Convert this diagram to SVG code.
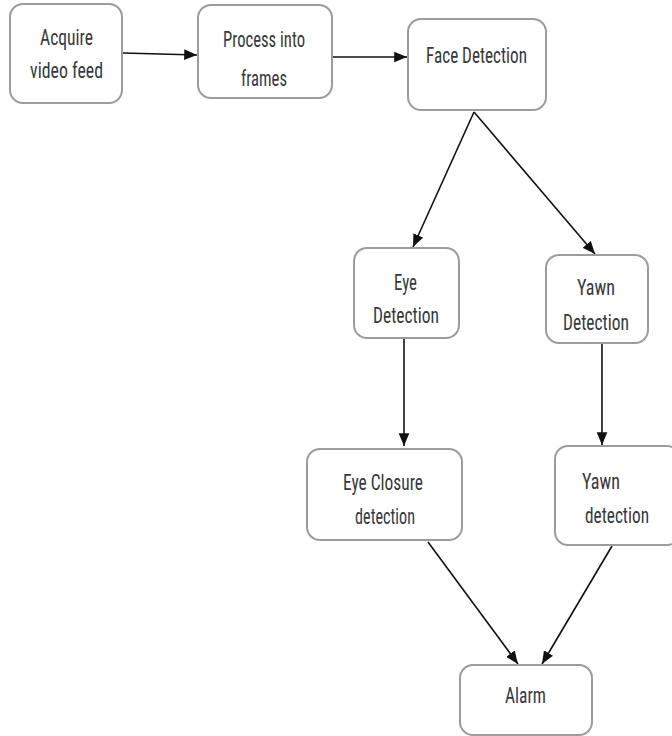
<svg xmlns="http://www.w3.org/2000/svg" width="672" height="736" viewBox="0 0 672 736">
  <style>
    .box { fill: #ffffff; stroke: #9c9c9c; stroke-width: 2; }
    .lbl { font-family: "Roboto Condensed", "Liberation Sans Narrow", Roboto, "Liberation Sans", sans-serif; font-size: 22px; fill: #383838; text-anchor: middle; }
    .edge { stroke: #111111; stroke-width: 1.6; fill: none; marker-end: url(#arrow); }
  </style>
  <defs>
    <marker id="arrow" viewBox="0 0 12 10" refX="12" refY="5" markerWidth="8" markerHeight="7" markerUnits="strokeWidth" orient="auto">
      <path d="M0,0 L12,5 L0,10 z" fill="#111111"/>
    </marker>
  </defs>
  <rect width="672" height="736" fill="#ffffff"/>

  <g id="connectors">
    <line class="edge" x1="123" y1="53" x2="197" y2="55"/>
    <line class="edge" x1="333" y1="57" x2="407" y2="57"/>
    <line class="edge" x1="474" y1="112" x2="413" y2="247"/>
    <line class="edge" x1="474" y1="112" x2="595" y2="254"/>
    <line class="edge" x1="404" y1="339" x2="404" y2="446"/>
    <line class="edge" x1="602" y1="344" x2="602" y2="445"/>
    <line class="edge" x1="428" y1="542" x2="518" y2="664"/>
    <line class="edge" x1="612" y1="546" x2="542" y2="664"/>
  </g>

  <g id="acquire">
    <rect class="box" x="10" y="4" width="112" height="99" rx="13"/>
    <text class="lbl" x="66.5" y="45" textLength="53" lengthAdjust="spacingAndGlyphs">Acquire</text>
    <text class="lbl" x="66.5" y="78" textLength="73" lengthAdjust="spacingAndGlyphs">video feed</text>
  </g>
  <g id="process">
    <rect class="box" x="198" y="5" width="134" height="93" rx="13"/>
    <text class="lbl" x="264" y="47" textLength="82" lengthAdjust="spacingAndGlyphs">Process into</text>
    <text class="lbl" x="264" y="86" textLength="46" lengthAdjust="spacingAndGlyphs">frames</text>
  </g>
  <g id="face">
    <rect class="box" x="408" y="19" width="138" height="91" rx="13"/>
    <text class="lbl" x="476.5" y="63" textLength="101" lengthAdjust="spacingAndGlyphs">Face Detection</text>
  </g>
  <g id="eye">
    <rect class="box" x="354" y="248" width="105" height="90" rx="13"/>
    <text class="lbl" x="405.5" y="290" textLength="23" lengthAdjust="spacingAndGlyphs">Eye</text>
    <text class="lbl" x="406" y="323" textLength="66" lengthAdjust="spacingAndGlyphs">Detection</text>
  </g>
  <g id="yawn">
    <rect class="box" x="546" y="255" width="102" height="88" rx="13"/>
    <text class="lbl" x="596" y="295" textLength="38" lengthAdjust="spacingAndGlyphs">Yawn</text>
    <text class="lbl" x="596" y="330" textLength="66" lengthAdjust="spacingAndGlyphs">Detection</text>
  </g>
  <g id="eye-closure">
    <rect class="box" x="307" y="449" width="155" height="91" rx="13"/>
    <text class="lbl" x="383" y="490" textLength="80" lengthAdjust="spacingAndGlyphs">Eye Closure</text>
    <text class="lbl" x="385" y="524" textLength="60" lengthAdjust="spacingAndGlyphs">detection</text>
  </g>
  <g id="yawn-detect">
    <rect class="box" x="555" y="446" width="125" height="99" rx="13"/>
    <text class="lbl" x="601" y="489" textLength="38" lengthAdjust="spacingAndGlyphs">Yawn</text>
    <text class="lbl" x="617" y="523" textLength="64" lengthAdjust="spacingAndGlyphs">detection</text>
  </g>
  <g id="alarm">
    <rect class="box" x="460" y="665" width="132" height="70" rx="13"/>
    <text class="lbl" x="525.5" y="703" textLength="41" lengthAdjust="spacingAndGlyphs">Alarm</text>
  </g>
</svg>
